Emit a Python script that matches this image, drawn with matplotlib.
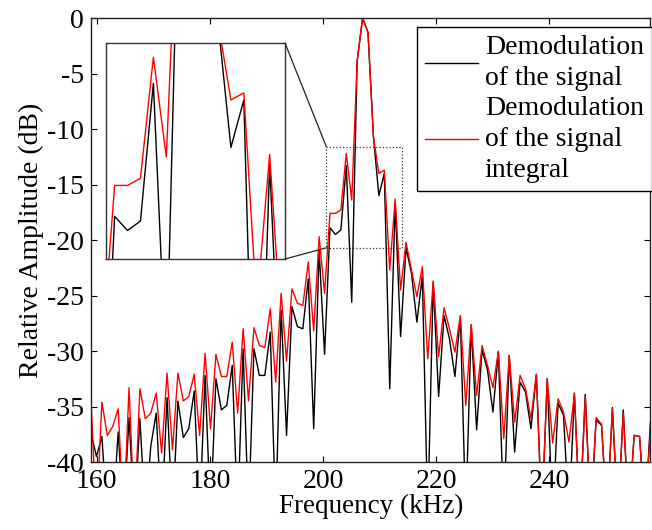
import numpy as np
import matplotlib
matplotlib.use('Agg')
import matplotlib.pyplot as plt
from matplotlib.patches import Rectangle, ConnectionPatch

plt.rcParams['font.family'] = ['Liberation Serif', 'DejaVu Serif']
plt.rcParams['axes.unicode_minus'] = False

# frequency bins (kHz)
f_start = 159.0
f_step = 0.96

# demodulation of the signal (dB), values below -40 are off the chart
sig_db = [-37.4, -39.5, -37.7, -45, -45, -37.3, -45, -36.0, -45, -36.1,
          -45, -38.6, -35.6, -45, -34.2, -45, -34.5, -37.8, -37.0, -33.6,
          -45, -32.2, -45, -32.5, -35.3, -34.9, -31.3, -45, -29.8, -45,
          -29.8, -32.2, -32.2, -28.3, -45, -26.3, -37.6, -26.0, -27.8, -28.0,
          -23.5, -37.0, -20.9, -30.3, -18.9, -19.5, -19.1, -13.3, -25.6, -3.9,
          0.0, -1.3, -10.7, -16.0, -14.0, -33.4, -16.7, -28.7, -20.7, -23.0,
          -27.4, -23.2, -45, -23.8, -34.1, -26.8, -28.9, -32.3, -26.9, -45,
          -27.7, -37.1, -29.9, -31.7, -35.5, -30.1, -45, -30.4, -39.1, -32.8,
          -33.7, -37.0, -32.1, -45, -32.5, -45, -34.7, -35.8, -45, -33.8,
          -45, -33.9, -45, -36.2, -36.7, -45, -35.1, -45, -35.3, -45,
          -37.6, -37.7, -45, -36.4]

# demodulation of the signal integral (dB)
int_db = [-34.6, -45, -34.6, -37.6, -36.8, -35.2, -45, -33.3, -45, -33.4,
          -36.1, -35.6, -33.8, -39.2, -32.0, -38.9, -32.0, -34.5, -34.1, -32.1,
          -37.6, -30.2, -37.0, -30.3, -32.3, -32.3, -29.2, -35.6, -28.0, -34.5,
          -27.9, -29.5, -29.7, -26.2, -32.8, -24.8, -30.9, -24.4, -25.7, -25.9,
          -22.0, -28.2, -19.7, -24.8, -17.6, -17.6, -17.3, -12.2, -16.4, -3.9,
          0.0, -1.3, -10.7, -14.0, -13.7, -22.7, -16.3, -24.5, -20.2, -22.7,
          -25.1, -22.4, -30.7, -23.7, -30.5, -26.1, -28.0, -30.1, -26.8, -34.9,
          -27.6, -34.0, -29.5, -31.3, -33.3, -30.0, -37.9, -30.4, -36.4, -32.2,
          -33.4, -36.1, -32.1, -45, -32.5, -38.3, -34.3, -35.5, -38.2, -33.8,
          -45, -34.1, -45, -36.0, -36.6, -45, -35.2, -45, -35.6, -45,
          -37.6, -37.7, -45, -37.0]

freq = f_start + f_step * np.arange(len(sig_db))

zoom_x = (200.6, 213.9)
zoom_y = (-20.7, -11.6)

fig = plt.figure(figsize=(6.52, 5.30), dpi=100)
ax = fig.add_axes([0.1396, 0.1283, 0.858, 0.8377])

ax.plot(freq, sig_db, color='black', lw=1.0, label='Demodulation\nof the signal')
ax.plot(freq, int_db, color='red', lw=1.0, label='Demodulation\nof the signal\nintegral')
ax.set_xlim(freq[0], freq[-1])
ax.set_ylim(-40, 0)
ax.set_xticks([160, 180, 200, 220, 240])
ax.set_yticks(np.arange(-40, 1, 5))
ax.tick_params(direction='in', top=True, right=True, labelsize=20, length=4, pad=5)
ax.set_xlabel('Frequency (kHz)', fontsize=19.5, labelpad=0)
ax.set_ylabel('Relative Amplitude (dB)', fontsize=20, labelpad=2)
for s in ax.spines.values():
    s.set_linewidth(1.0)
    s.set_color('#222222')

leg = ax.legend(loc='upper right', bbox_to_anchor=(1.003, 0.98), fontsize=20,
                frameon=True, fancybox=False, edgecolor='black', framealpha=1,
                borderaxespad=0, handlelength=1.9, handletextpad=0.25,
                labelspacing=0.2, borderpad=0.3)
leg.get_frame().set_linewidth(1.0)
for t in leg.get_texts():
    t.set_linespacing(1.3)

# zoom rectangle on the main axes
rect = Rectangle((zoom_x[0], zoom_y[0]), zoom_x[1] - zoom_x[0], zoom_y[1] - zoom_y[0],
                 fill=False, ls=':', lw=0.9, color='#333333')
ax.add_patch(rect)

# inset
axin = fig.add_axes([0.1626, 0.5113, 0.2745, 0.4075])
axin.plot(freq, sig_db, color='black', lw=1.0)
axin.plot(freq, int_db, color='red', lw=1.0)
axin.set_xlim(*zoom_x)
axin.set_ylim(*zoom_y)
axin.set_xticks([])
axin.set_yticks([])
for s in axin.spines.values():
    s.set_linewidth(1.0)
    s.set_color('#333333')

for yy, ya in [(zoom_y[1], 1), (zoom_y[0], 0)]:
    con = ConnectionPatch(xyA=(1, ya), coordsA=axin.transAxes,
                          xyB=(zoom_x[0], yy), coordsB=ax.transData,
                          color='#222222', lw=0.9)
    fig.add_artist(con)

fig.savefig('out.png', dpi=100)
